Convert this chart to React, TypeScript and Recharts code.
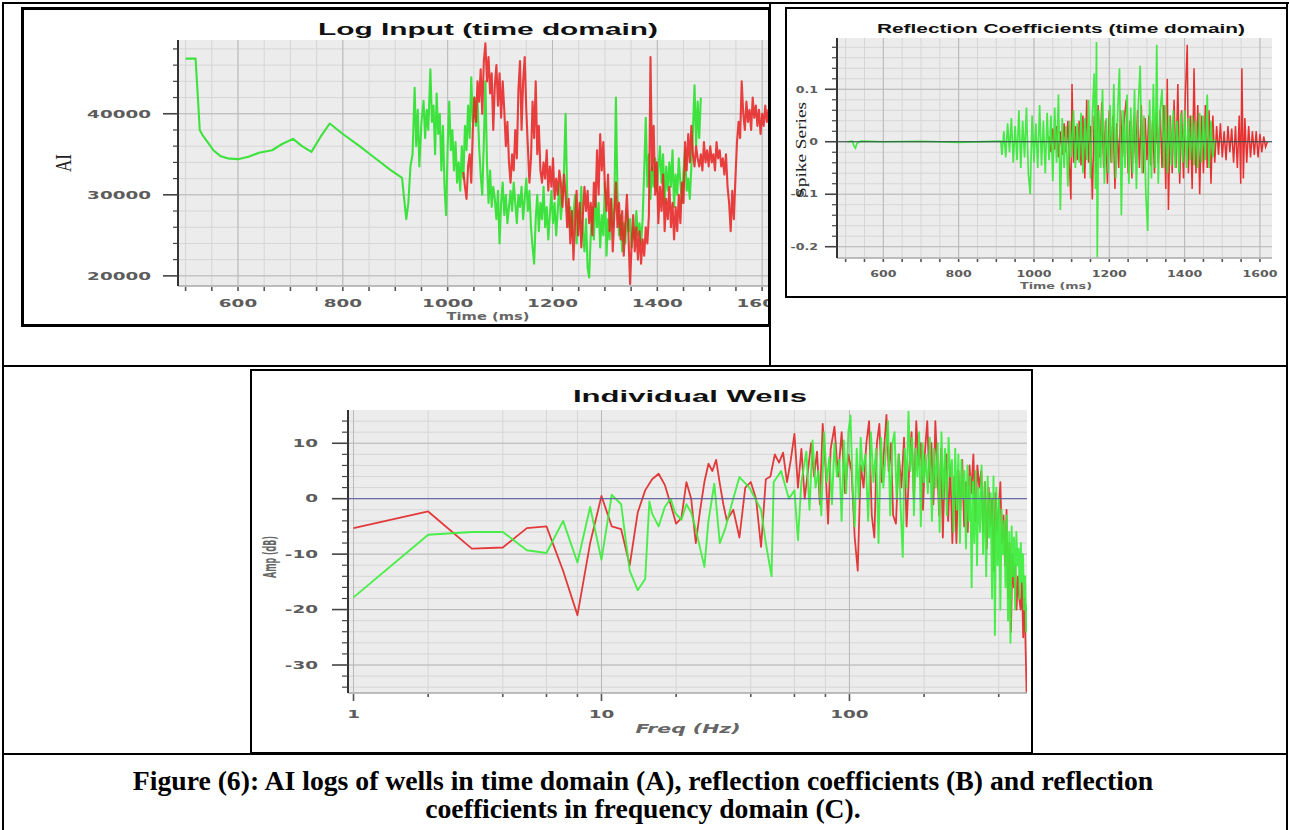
import React from "react";
import { LineChart, Line, XAxis, YAxis, CartesianGrid, ReferenceLine } from "recharts";

// ---------- shared axis ticks ----------
const timeTicks = [500, 550, 600, 650, 700, 750, 800, 850, 900, 950, 1000, 1050, 1100, 1150, 1200, 1250, 1300, 1350, 1400, 1450, 1500, 1550, 1600];
const timeMajor = [600, 800, 1000, 1200, 1400, 1600];

// ---------- (A) Log Input (time domain) ----------
const aiTicks = [20000, 22000, 24000, 26000, 28000, 30000, 32000, 34000, 36000, 38000, 40000, 42000, 44000, 46000, 48000];
const aiMajor = [20000, 30000, 40000];

const aiGreen: [number, number][] = [
  [500, 46800], [519, 46800], [523, 42500], [527, 38000], [532, 37400], [542, 36500], [553, 35500], [566, 34800],
  [580, 34500], [600, 34400], [620, 34700], [640, 35200], [665, 35500], [685, 36300], [705, 36900], [722, 36000],
  [740, 35300], [758, 37200], [775, 38800], [800, 37500], [830, 36100], [860, 34600], [890, 33100], [913, 32100],
  [917, 29500], [921, 27000], [925, 29000], [929, 33500], [933, 35000], [937, 43200], [940, 36000], [943, 40500],
  [946, 33500], [950, 39000], [954, 41600], [957, 37000], [960, 40500], [963, 38000], [967, 45500], [970, 39000],
  [973, 41000], [976, 35000], [979, 42500], [982, 37500], [985, 40000], [988, 33000], [991, 38500], [994, 31000],
  [997, 27500], [1000, 36000], [1003, 41500], [1006, 35500], [1009, 38000], [1012, 33000], [1015, 36500], [1018, 31500],
  [1021, 34000], [1024, 30500], [1027, 36000], [1030, 32000], [1033, 38500], [1036, 35500], [1039, 41000], [1042, 37000],
  [1045, 44500], [1048, 39000], [1051, 42000], [1054, 38500], [1057, 41500], [1060, 36000], [1063, 32500], [1066, 30000],
  [1069, 36500], [1072, 44000], [1075, 34000], [1078, 29000], [1081, 33000], [1084, 28500], [1087, 31000], [1090, 29500],
  [1093, 27000], [1096, 30500], [1099, 24000], [1102, 29000], [1105, 31500], [1108, 27500], [1111, 30000], [1114, 26500],
  [1117, 28500], [1120, 30500], [1123, 28000], [1126, 31500], [1129, 29000], [1132, 26500], [1135, 30000], [1138, 28500],
  [1141, 31000], [1144, 27000], [1147, 29500], [1150, 32000], [1153, 28000], [1156, 30500], [1159, 26000], [1162, 23500],
  [1165, 21500], [1168, 27000], [1171, 30000], [1174, 25500], [1177, 29000], [1180, 27000], [1183, 31000], [1186, 26000],
  [1189, 28500], [1192, 24500], [1195, 27500], [1198, 30500], [1201, 26500], [1204, 29000], [1207, 25000], [1210, 28000],
  [1213, 31500], [1216, 27000], [1219, 29500], [1222, 33000], [1225, 40000], [1228, 30000], [1231, 26000], [1234, 28500],
  [1237, 25000], [1240, 27500], [1243, 30000], [1246, 24000], [1249, 28000], [1252, 26500], [1255, 31000], [1258, 25500],
  [1261, 23000], [1264, 27000], [1267, 21000], [1270, 19800], [1273, 25000], [1276, 28500], [1279, 24500], [1282, 30000],
  [1285, 26000], [1288, 29000], [1291, 23500], [1294, 27500], [1297, 25000], [1300, 31500], [1303, 22500], [1306, 27000],
  [1309, 24500], [1312, 29500], [1315, 26000], [1318, 28500], [1321, 42000], [1324, 30000], [1327, 25000], [1330, 27500],
  [1333, 23000], [1336, 26500], [1339, 24000], [1342, 28000], [1345, 25500], [1348, 27000], [1351, 23500], [1354, 26000],
  [1357, 24500], [1360, 28000], [1363, 25000], [1366, 26500], [1369, 24000], [1372, 27000], [1375, 33000], [1378, 39500],
  [1381, 31000], [1384, 35000], [1387, 29500], [1390, 33500], [1393, 31000], [1396, 34500], [1399, 30500], [1402, 33000],
  [1405, 36000], [1408, 31500], [1411, 35000], [1414, 29000], [1417, 33500], [1420, 30500], [1423, 34000], [1426, 31000],
  [1429, 35500], [1432, 28500], [1435, 32500], [1438, 30000], [1441, 34500], [1444, 31500], [1447, 29000], [1450, 33000],
  [1453, 35500], [1456, 30500], [1459, 32000], [1462, 29500], [1465, 33500], [1468, 38000], [1471, 43500], [1474, 36000],
  [1477, 41500], [1480, 37000], [1483, 42000],
];

const aiRed: [number, number][] = [
  [1030, 32800], [1033, 31000], [1036, 29500], [1039, 33500], [1042, 35000], [1045, 31500], [1048, 38000], [1051, 42000],
  [1054, 39000], [1057, 44000], [1060, 41500], [1063, 45500], [1066, 40000], [1069, 46500], [1072, 48700], [1075, 44000],
  [1078, 47000], [1081, 42500], [1084, 45000], [1087, 38000], [1090, 43500], [1093, 46000], [1096, 41000], [1099, 45000],
  [1102, 39500], [1105, 44000], [1108, 40500], [1111, 36000], [1114, 39000], [1117, 34000], [1120, 31500], [1123, 35000],
  [1126, 33000], [1129, 38000], [1132, 34500], [1135, 43000], [1138, 46500], [1141, 38000], [1144, 44000], [1147, 47000],
  [1150, 40500], [1153, 36000], [1156, 31500], [1159, 34500], [1162, 41500], [1165, 37000], [1168, 44000], [1171, 35000],
  [1174, 38500], [1177, 33000], [1180, 31500], [1183, 34000], [1186, 32000], [1189, 35500], [1192, 30500], [1195, 33500],
  [1198, 31000], [1201, 34500], [1204, 29500], [1207, 32000], [1210, 30000], [1213, 33000], [1216, 31500], [1219, 28500],
  [1222, 32500], [1225, 30000], [1228, 26000], [1231, 29500], [1234, 24000], [1237, 28000], [1240, 22000], [1243, 26500],
  [1246, 30500], [1249, 25000], [1252, 29000], [1255, 23500], [1258, 27500], [1261, 31000], [1264, 28000], [1267, 30500],
  [1270, 26500], [1273, 29000], [1276, 25000], [1279, 31500], [1282, 28500], [1285, 35500], [1288, 30000], [1291, 37500],
  [1294, 33000], [1297, 36500], [1300, 31000], [1303, 28000], [1306, 32500], [1309, 25500], [1312, 29500], [1315, 23000],
  [1318, 27500], [1321, 31500], [1324, 26000], [1327, 29000], [1330, 24500], [1333, 28000], [1336, 22500], [1339, 26500],
  [1342, 30000], [1345, 25000], [1348, 19000], [1351, 24000], [1354, 27500], [1357, 23000], [1360, 26000], [1363, 22000],
  [1366, 25500], [1369, 21500], [1372, 24500], [1375, 22500], [1378, 26000], [1381, 24000], [1384, 27500], [1387, 47000],
  [1390, 33000], [1393, 38500], [1396, 30000], [1399, 34000], [1402, 26500], [1405, 31000], [1408, 28000], [1411, 32500],
  [1414, 25500], [1417, 29500], [1420, 27000], [1423, 31000], [1426, 26000], [1429, 29000], [1432, 24500], [1435, 28500],
  [1438, 25500], [1441, 30000], [1444, 26500], [1447, 31500], [1450, 29000], [1453, 36500], [1456, 33000], [1459, 37500],
  [1462, 34000], [1465, 38500], [1468, 35000], [1471, 33500], [1474, 36000], [1477, 34500], [1480, 33500], [1483, 35000],
  [1486, 33000], [1489, 36500], [1492, 34000], [1495, 35500], [1498, 33500], [1501, 36000], [1504, 34000], [1507, 35000],
  [1510, 33000], [1513, 36500], [1516, 34500], [1519, 35500], [1522, 33500], [1525, 34500], [1528, 32500], [1531, 35000],
  [1534, 31000], [1537, 29000], [1540, 25500], [1543, 30500], [1546, 27000], [1549, 32000], [1552, 36500], [1555, 39000],
  [1558, 37000], [1561, 44000], [1564, 40000], [1567, 38000], [1570, 41500], [1573, 39000], [1576, 40500], [1579, 38000],
  [1582, 42000], [1585, 39500], [1588, 41000], [1591, 38500], [1594, 40500], [1597, 37500], [1600, 40000], [1603, 38500],
  [1606, 41000], [1609, 39000], [1612, 40500], [1615, 39500],
];

// ---------- (B) Reflection Coefficients (time domain) ----------
const rcTicks = [-0.2, -0.18, -0.16, -0.14, -0.12, -0.1, -0.08, -0.06, -0.04, -0.02, 0, 0.02, 0.04, 0.06, 0.08, 0.1, 0.12, 0.14, 0.16, 0.18];
const rcMajor = [-0.2, -0.1, 0, 0.1];

const rcGreen: [number, number][] = [
  [505, 0], [518, 0.001], [522, -0.008], [526, -0.012], [530, -0.003], [540, 0.001], [600, 0], [700, 0.001],
  [800, -0.001], [912, 0.001], [915, -0.025], [920, 0.02], [925, -0.03], [930, 0.035], [935, -0.02], [940, 0.045],
  [945, -0.04], [950, 0.03], [955, -0.035], [960, 0.06], [965, -0.05], [970, 0.04], [975, -0.03], [980, 0.065],
  [985, -0.06], [990, -0.1], [995, 0.05], [1000, -0.04], [1005, 0.035], [1010, -0.05], [1015, 0.07], [1020, -0.045],
  [1025, 0.04], [1030, -0.06], [1035, 0.055], [1040, -0.035], [1045, 0.05], [1050, -0.075], [1055, 0.065], [1060, -0.04],
  [1065, 0.09], [1070, -0.13], [1075, 0.045], [1080, -0.05], [1085, 0.03], [1090, -0.085], [1095, 0.04], [1100, -0.03],
  [1105, 0.06], [1110, -0.05], [1115, 0.035], [1120, -0.04], [1125, 0.055], [1130, -0.06], [1135, 0.045], [1140, -0.035],
  [1145, 0.08], [1150, -0.07], [1155, 0.05], [1160, 0.13], [1163, -0.09], [1166, 0.19], [1168, -0.22], [1172, 0.06],
  [1177, -0.05], [1182, 0.1], [1187, -0.08], [1192, 0.045], [1197, -0.06], [1202, 0.07], [1207, -0.04], [1212, 0.11],
  [1217, -0.07], [1222, 0.05], [1227, 0.14], [1232, -0.14], [1237, 0.06], [1242, -0.05], [1247, 0.09], [1252, -0.08],
  [1257, 0.065], [1262, -0.06], [1267, 0.1], [1272, -0.09], [1277, 0.07], [1282, 0.145], [1287, -0.06], [1292, 0.05],
  [1297, -0.1], [1302, -0.17], [1307, 0.08], [1312, -0.07], [1317, 0.11], [1322, -0.05], [1326, 0.185], [1330, -0.08],
  [1335, 0.06], [1340, 0.1], [1345, -0.05], [1350, 0.07], [1355, -0.06], [1360, 0.05], [1365, -0.045], [1370, 0.06],
  [1375, -0.05], [1380, 0.04], [1385, -0.06], [1390, 0.055], [1395, -0.04], [1400, 0.06], [1405, -0.05], [1410, 0.045],
  [1415, -0.035], [1420, 0.05], [1425, -0.045], [1430, 0.04], [1435, -0.05], [1440, 0.055], [1445, -0.04], [1450, 0.05],
  [1455, -0.035], [1460, 0.09], [1465, -0.05], [1470, 0.04], [1475, -0.03], [1480, 0.005],
];

const rcRed: [number, number][] = [
  [1040, 0.01], [1045, -0.02], [1050, 0.025], [1055, -0.015], [1060, 0.03], [1065, -0.03], [1070, 0.02], [1075, -0.025],
  [1080, 0.035], [1085, -0.02], [1090, 0.04], [1095, -0.06], [1098, -0.11], [1101, 0.11], [1105, -0.04], [1110, 0.03],
  [1115, -0.035], [1120, 0.04], [1125, -0.045], [1130, 0.05], [1135, -0.07], [1140, 0.08], [1145, -0.04], [1150, 0.03],
  [1155, -0.11], [1160, 0.05], [1165, -0.06], [1170, 0.07], [1175, -0.03], [1180, 0.075], [1185, -0.05], [1190, 0.04],
  [1195, -0.08], [1200, 0.06], [1205, -0.04], [1210, 0.05], [1215, -0.09], [1220, 0.035], [1225, -0.05], [1230, 0.06],
  [1235, -0.03], [1240, 0.045], [1245, 0.08], [1250, -0.06], [1255, 0.04], [1260, -0.07], [1265, 0.05], [1270, -0.04],
  [1275, 0.06], [1280, -0.05], [1285, 0.07], [1290, -0.06], [1295, 0.045], [1300, -0.035], [1305, 0.05], [1310, -0.045],
  [1315, 0.04], [1320, -0.06], [1325, 0.055], [1330, -0.04], [1335, 0.06], [1340, -0.05], [1345, 0.07], [1350, -0.09],
  [1354, 0.12], [1357, -0.13], [1362, 0.05], [1367, -0.06], [1372, 0.08], [1377, -0.05], [1382, 0.11], [1387, -0.08],
  [1392, 0.06], [1397, -0.07], [1402, 0.09], [1407, 0.185], [1410, -0.06], [1415, 0.05], [1420, -0.09], [1425, 0.14],
  [1430, -0.06], [1435, 0.07], [1440, -0.1], [1445, 0.05], [1450, -0.06], [1455, 0.07], [1460, -0.05], [1465, 0.06],
  [1470, -0.08], [1475, 0.05], [1480, -0.04], [1485, 0.03], [1490, -0.025], [1495, 0.035], [1500, -0.03], [1505, 0.02],
  [1510, -0.035], [1515, 0.03], [1520, -0.02], [1525, 0.025], [1530, -0.04], [1535, 0.03], [1540, -0.05], [1545, 0.05],
  [1549, -0.08], [1552, 0.14], [1556, -0.07], [1560, 0.045], [1565, -0.04], [1570, 0.03], [1575, -0.03], [1580, 0.02],
  [1585, -0.025], [1590, 0.02], [1595, -0.03], [1600, 0.015], [1605, -0.02], [1610, 0.01], [1615, -0.01], [1620, 0],
];

// ---------- (C) Individual Wells (frequency domain) ----------
const freqTicks = [1, 2, 4, 6, 8, 10, 20, 40, 60, 80, 100, 200, 400];
const freqMajor = [1, 10, 100];
const ampTicks = [-34, -32, -30, -28, -26, -24, -22, -20, -18, -16, -14, -12, -10, -8, -6, -4, -2, 0, 2, 4, 6, 8, 10, 12, 14];
const ampMajor = [-30, -20, -10, 0, 10];

const ampGreen: [number, number][] = [
  [1, -17.8], [2, -6.5], [3, -6], [4, -6], [5, -9.3], [6, -9.8], [7, -4], [8, -11.5],
  [9, -1.5], [10, -11], [11, 0.7], [12, -1], [13, -13], [14, -16.5], [15, -14.5], [15.6, -0.5],
  [16, -2.7], [17, -5], [18, -1.5], [19, 0], [19.8, -2.5], [21, -3.8], [22, -1], [23, -2.5],
  [24, -5.5], [26, -12.3], [27, -4], [28.5, 2.7], [30, -8], [31.5, -5.5], [33.5, -1], [36, 3.9],
  [39.5, 2], [44, -2], [46, -8], [48.5, -14], [49.5, 3], [53, 5], [57, 0], [60, 1.5],
  [62, -7.5], [64, 3], [67, 8.5], [69, -2], [71, 10.5], [73, 2], [75, 5], [77, -3],
  [79, 12], [81, 3], [83, 7.5], [85, -1], [87, 10], [89, 4], [91, 7], [93, -4],
  [95, 10.5], [97, 1], [99, 12], [101, 15], [103, 2], [105, -5], [107, 9], [109, 0],
  [111, 11], [113, 5], [116, 8], [119, -4], [122, 12], [125, 3], [128, 9], [131, -8],
  [134, 11], [137, 2], [140, 8], [143, 14], [146, -3], [149, 10], [152, 12], [155, 0],
  [158, 8], [161, -2], [164, -10.5], [167, 9], [170, 2], [173, 15.7], [176, 5], [179, 11],
  [182, -3], [185, 9], [188, 4], [191, 12], [194, -5], [197, 10], [200, 3], [203, 8],
  [207, 1], [211, 11], [215, -4], [219, 9], [223, 2], [227, 10], [231, -6], [235, 12],
  [239, 0], [243, 9], [247, -3], [251, 11], [255, 4], [259, 7], [263, -6], [267, 9],
  [271, -2], [275, 8], [279, -8], [283, 7], [287, 0], [291, 5], [295, -9], [299, 6],
  [303, -4], [307, 4], [311, -16], [315, 3], [319, -8], [323, 5], [327, -12], [331, 2],
  [336, -6], [341, 6], [346, -10], [351, 3], [356, -14], [361, 4], [366, -7], [371, 1],
  [376, -18], [381, 4], [386, -24.6], [391, 2], [396, -12], [401, 0], [406, -20], [411, -2],
  [416, -10], [421, -4], [426, -16], [431, -3], [436, -22], [441, -6], [446, -26], [451, -5],
  [456, -14], [461, -7], [466, -20], [471, -6], [476, -12], [481, -9], [486, -18], [491, -8],
  [496, -15], [501, -10], [506, -20], [511, -14], [516, -24], [520, -19],
];

const ampRed: [number, number][] = [
  [1, -5.3], [2, -2.3], [3, -9], [4, -8.8], [5, -5.3], [6, -5], [7, -13], [8, -21],
  [9, -8], [10, 0.5], [11, -5], [12, -5.5], [13, -12], [14, -2.5], [15, 1.5], [16, 3.5],
  [17, 4.5], [18, 2.5], [19, -1], [20, -4.5], [21, -3.5], [22, 3], [23, 0], [24, -8],
  [25, -2], [26, 3], [27, 6.3], [28, 5], [29, 7], [30, 2.7], [31, -1], [32, -3.9],
  [34, -2], [36, -7], [38, 2], [40, 3], [42, 0], [44, -8.7], [46, 3.5], [48, 4],
  [50, 8], [52, 6.5], [54, 8.3], [56, 3], [58, 7], [60, 11.7], [62, 2], [64, 9],
  [66, 0], [68, 5], [70, 10], [72, 4], [74, 8.5], [76, -1], [78, 13.5], [80, 6],
  [82, -4.5], [84, 9], [87, 13], [90, 4], [93, 12], [96, 1], [99, 8], [102, 5],
  [105, -7], [108, -13], [111, 6], [114, 2], [117, 10], [120, 14], [123, -3], [126, -7],
  [129, 10], [132, 13.5], [135, 3], [138, 9], [141, 15.1], [144, 5], [147, 10], [150, -3],
  [154, -4.5], [158, 8], [162, 2], [166, 11], [170, -5], [174, 5], [178, 12], [182, 0],
  [186, 14], [190, 6], [194, 10], [198, -2], [202, 9], [206, 14], [210, 3], [214, 10],
  [218, -1], [222, 14], [226, 6], [230, -3], [234, 9], [238, -7], [242, 5], [246, 8],
  [250, -4], [255, 6], [260, -8], [265, 4], [270, -8], [275, 5], [280, -2], [285, 7],
  [290, -5], [295, 3], [300, -6], [305, 6], [310, 1], [316, 8], [322, -4], [328, 6],
  [334, 2], [340, 5], [346, -6], [352, 3], [358, -9], [364, 2], [370, -5], [376, 0],
  [382, -13], [388, 1], [394, -6], [400, -2], [406, 3], [412, -8], [418, -3], [424, -12],
  [430, -2], [436, -18], [442, -8], [448, -24], [454, -10], [460, -16], [466, -12], [472, -20],
  [478, -14], [484, -18], [490, -20], [496, -15], [502, -25], [508, -18], [514, -28], [518, -35],
];

const pts = (arr: [number, number][]) => arr.map(([x, y]) => ({ x, y }));

// ---------- tick renderers ----------
type TickOpts = { majors: number[]; majorLen: number; minorLen: number; gap: number; size: number; stretch: number };

const TICK_FONT = "DejaVu Sans";

function yTick(o: TickOpts) {
  return (props: any) => {
    const { x, y, payload } = props;
    const major = o.majors.includes(payload.value);
    const len = major ? o.majorLen : o.minorLen;
    return (
      <g>
        <line x1={x - len} y1={y} x2={x} y2={y} stroke="#444" strokeWidth={major ? 1.6 : 1.2} />
        {major && (
          <text
            transform={`translate(${x - o.gap} ${y + o.size * 0.36}) scale(${o.stretch} 1)`}
            textAnchor="end"
            fontFamily={TICK_FONT}
            fontWeight="bold"
            fontSize={o.size}
            fill="#5c5c5c"
          >
            {String(payload.value)}
          </text>
        )}
      </g>
    );
  };
}

function xTick(o: TickOpts) {
  return (props: any) => {
    const { x, y, payload } = props;
    const major = o.majors.includes(payload.value);
    const len = major ? o.majorLen : o.minorLen;
    return (
      <g>
        <line x1={x} y1={y + 1} x2={x} y2={y + 1 + len} stroke="#555" strokeWidth={1.6} />
        {major && (
          <text
            transform={`translate(${x} ${y + o.gap}) scale(${o.stretch} 1)`}
            textAnchor="middle"
            fontFamily={TICK_FONT}
            fontWeight="bold"
            fontSize={o.size}
            fill="#5c5c5c"
          >
            {String(payload.value)}
          </text>
        )}
      </g>
    );
  };
}

const BG = "#ececec";
const MINOR = "#d6d6d6";
const MAJOR = "#b9b9b9";

function LogInputChart() {
  return (
    <div style={{ position: "absolute", left: 21, top: 7 }}>
      <LineChart width={749} height={319} margin={{ top: 33, right: 0, bottom: 0, left: 0 }}>
        <CartesianGrid fill={BG} stroke={MINOR} verticalValues={timeTicks} horizontalValues={aiTicks} />
        <CartesianGrid stroke={MAJOR} verticalValues={timeMajor} horizontalValues={aiMajor} />
        <XAxis
          type="number"
          dataKey="x"
          domain={[485.5, 1615]}
          allowDataOverflow
          ticks={timeTicks}
          interval={0}
          tickSize={0}
          tickMargin={0}
          tickLine={false}
          axisLine={{ stroke: "#a8a8a8", strokeWidth: 1.5 }}
          tick={xTick({ majors: timeMajor, majorLen: 4, minorLen: 4, gap: 21, size: 10.5, stretch: 1.75 })}
          height={40}
        />
        <YAxis
          type="number"
          domain={[18750, 49100]}
          allowDataOverflow
          ticks={aiTicks}
          interval={0}
          tickSize={0}
          tickMargin={0}
          tickLine={false}
          axisLine={{ stroke: "#333", strokeWidth: 2 }}
          tick={yTick({ majors: aiMajor, majorLen: 15, minorLen: 5, gap: 27, size: 10.5, stretch: 1.75 })}
          width={157}
        />
        <Line data={pts(aiGreen)} dataKey="y" type="linear" stroke="#3ee23e" strokeWidth={2.1} strokeLinejoin="round" dot={false} isAnimationActive={false} />
        <Line data={pts(aiRed)} dataKey="y" type="linear" stroke="#e82525" strokeOpacity={0.88} strokeWidth={2.1} strokeLinejoin="round" dot={false} isAnimationActive={false} />
      </LineChart>
    </div>
  );
}

function ReflectionChart() {
  return (
    <div style={{ position: "absolute", left: 785, top: 7 }}>
      <LineChart width={503} height={291} margin={{ top: 31, right: 16, bottom: 0, left: 0 }}>
        <CartesianGrid fill={BG} stroke={MINOR} verticalValues={timeTicks} horizontalValues={rcTicks} />
        <CartesianGrid stroke={MAJOR} verticalValues={timeMajor} horizontalValues={rcMajor} />
        <XAxis
          type="number"
          dataKey="x"
          domain={[477, 1632]}
          allowDataOverflow
          ticks={timeTicks}
          interval={0}
          tickSize={0}
          tickMargin={0}
          tickLine={false}
          axisLine={{ stroke: "#a8a8a8", strokeWidth: 1.5 }}
          tick={xTick({ majors: timeMajor, majorLen: 3, minorLen: 3, gap: 19, size: 9, stretch: 1.4 })}
          height={40}
        />
        <YAxis
          type="number"
          domain={[-0.2215, 0.1977]}
          allowDataOverflow
          ticks={rcTicks}
          interval={0}
          tickSize={0}
          tickMargin={0}
          tickLine={false}
          axisLine={{ stroke: "#333", strokeWidth: 2 }}
          tick={yTick({ majors: rcMajor, majorLen: 12, minorLen: 5, gap: 19, size: 9, stretch: 1.4 })}
          width={52}
        />
        <Line data={pts(rcRed)} dataKey="y" type="linear" stroke="#e83030" strokeWidth={1.5} dot={false} isAnimationActive={false} />
        <Line data={pts(rcGreen)} dataKey="y" type="linear" stroke="#38e838" strokeOpacity={0.92} strokeWidth={1.7} dot={false} isAnimationActive={false} />
        <ReferenceLine y={0} stroke="#2f4a4a" strokeWidth={1} />
      </LineChart>
    </div>
  );
}

function SpectrumChart() {
  return (
    <div style={{ position: "absolute", left: 250, top: 369 }}>
      <LineChart width={783} height={385} margin={{ top: 41, right: 6, bottom: 0, left: 0 }}>
        <CartesianGrid fill={BG} stroke={MINOR} verticalValues={freqTicks} horizontalValues={ampTicks} />
        <CartesianGrid stroke={MAJOR} verticalValues={freqMajor} horizontalValues={ampMajor} />
        <XAxis
          type="number"
          scale="log"
          dataKey="x"
          domain={[0.95, 520]}
          allowDataOverflow
          ticks={freqTicks}
          interval={0}
          tickSize={0}
          tickMargin={0}
          tickLine={false}
          axisLine={{ stroke: "#a8a8a8", strokeWidth: 1.5 }}
          tick={xTick({ majors: freqMajor, majorLen: 7, minorLen: 3, gap: 25, size: 10.5, stretch: 1.75 })}
          height={61}
        />
        <YAxis
          type="number"
          domain={[-35.05, 16]}
          allowDataOverflow
          ticks={ampTicks}
          interval={0}
          tickSize={0}
          tickMargin={0}
          tickLine={false}
          axisLine={{ stroke: "#333", strokeWidth: 2 }}
          tick={yTick({ majors: ampMajor, majorLen: 16, minorLen: 6, gap: 30, size: 10.5, stretch: 1.75 })}
          width={98}
        />
        <Line data={pts(ampRed)} dataKey="y" type="linear" stroke="#e23a3a" strokeWidth={1.8} strokeLinejoin="round" dot={false} isAnimationActive={false} />
        <Line data={pts(ampGreen)} dataKey="y" type="linear" stroke="#3cee3c" strokeOpacity={0.92} strokeWidth={1.9} strokeLinejoin="round" dot={false} isAnimationActive={false} />
        <ReferenceLine y={0} stroke="#5b5ba2" strokeWidth={1} />
      </LineChart>
    </div>
  );
}

const line = (left: number, top: number, width: number, height: number) => (
  <div style={{ position: "absolute", left, top, width, height, background: "#000" }} />
);

const frame = (left: number, top: number, width: number, height: number, b: number) => (
  <div style={{ position: "absolute", left, top, width, height, border: `${b}px solid #000`, boxSizing: "border-box" }} />
);

export default function App() {
  const sans = "Liberation Sans, Arial, sans-serif";
  return (
    <div style={{ position: "absolute", left: 0, top: 0, width: 1290, height: 830, background: "#fff", overflow: "hidden" }}>
      <LogInputChart />
      <ReflectionChart />
      <SpectrumChart />

      <svg width={1290} height={830} style={{ position: "absolute", left: 0, top: 0, pointerEvents: "none" }}>
        {/* titles */}
        <text x={488} y={35} textAnchor="middle" fontFamily={sans} fontWeight="bold" fontSize={17} textLength={340} lengthAdjust="spacingAndGlyphs" fill="#111">
          Log Input (time domain)
        </text>
        <text x={1061} y={33} textAnchor="middle" fontFamily={sans} fontWeight="bold" fontSize={13.5} textLength={368} lengthAdjust="spacingAndGlyphs" fill="#111">
          Reflection Coefficients (time domain)
        </text>
        <text x={690} y={402} textAnchor="middle" fontFamily={sans} fontWeight="bold" fontSize={17} textLength={234} lengthAdjust="spacingAndGlyphs" fill="#111">
          Individual Wells
        </text>

        {/* axis labels */}
        <text x={488} y={320} textAnchor="middle" fontFamily={TICK_FONT} fontWeight="bold" fontSize={11} textLength={83} lengthAdjust="spacingAndGlyphs" fill="#666">
          Time (ms)
        </text>
        <text x={1056} y={289} textAnchor="middle" fontFamily={TICK_FONT} fontWeight="bold" fontSize={9.5} textLength={72} lengthAdjust="spacingAndGlyphs" fill="#666">
          Time (ms)
        </text>
        <text x={688} y={733} textAnchor="middle" fontFamily={TICK_FONT} fontWeight="bold" fontStyle="italic" fontSize={12} textLength={105} lengthAdjust="spacingAndGlyphs" fill="#666">
          Freq (Hz)
        </text>
        <text transform="translate(71 163) scale(1.35 1) rotate(-90)" textAnchor="middle" fontFamily="Liberation Serif, serif" fontSize={17} fill="#222">
          AI
        </text>
        <text transform="translate(806 150) rotate(-90)" textAnchor="middle" fontFamily="Liberation Serif, serif" fontSize={14} textLength={96} lengthAdjust="spacingAndGlyphs" fill="#222">
          Spike Series
        </text>
        <text transform="translate(276 557) scale(1.7 1) rotate(-90)" textAnchor="middle" fontFamily={TICK_FONT} fontWeight="bold" fontSize={10} textLength={42} lengthAdjust="spacingAndGlyphs" fill="#666">
          Amp (dB)
        </text>

        {/* caption */}
        <text x={643} y={790} textAnchor="middle" fontFamily="Liberation Serif, serif" fontWeight="bold" fontSize={27.7} fill="#000">
          Figure (6): AI logs of wells in time domain (A), reflection coefficients (B) and reflection
        </text>
        <text x={643} y={818} textAnchor="middle" fontFamily="Liberation Serif, serif" fontWeight="bold" fontSize={27.7} fill="#000">
          coefficients in frequency domain (C).
        </text>
      </svg>

      {/* chart frames */}
      {frame(21, 7, 750, 320, 3)}
      {frame(785, 7, 503, 291, 2)}
      {frame(250, 369, 783, 385, 2)}

      {/* table rules */}
      {line(2, 2, 1287, 2)}
      {line(2, 2, 2, 828)}
      {line(1286, 2, 2, 828)}
      {line(769, 2, 2, 365)}
      {line(2, 365, 1286, 2)}
      {line(2, 753, 1286, 2)}
    </div>
  );
}
